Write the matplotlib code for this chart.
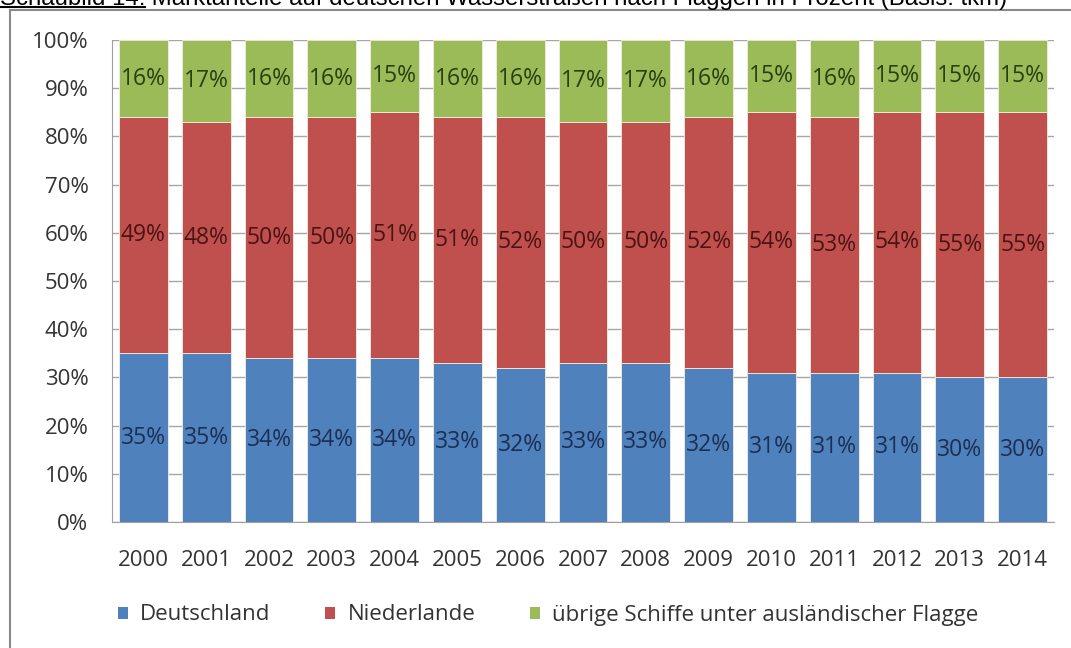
import numpy as np
import matplotlib
matplotlib.use("Agg")
import matplotlib.pyplot as plt
from matplotlib.patches import Patch
from matplotlib.lines import Line2D

years = ["2000", "2001", "2002", "2003", "2004", "2005", "2006", "2007",
         "2008", "2009", "2010", "2011", "2012", "2013", "2014"]
deutschland = [35, 35, 34, 34, 34, 33, 32, 33, 33, 32, 31, 31, 31, 30, 30]
niederlande = [49, 48, 50, 50, 51, 51, 52, 50, 50, 52, 54, 53, 54, 55, 55]
uebrige = [16, 17, 16, 16, 15, 16, 16, 17, 17, 16, 15, 16, 15, 15, 15]
series_names = ["Deutschland", "Niederlande", "übrige Schiffe unter ausländischer Flagge"]

colors = ["#4F81BD", "#C0504D", "#9BBB59"]
label_colors = ["#1c2f52", "#4a1414", "#26400e"]

plt.rcParams['font.family'] = ['Open Sans', 'DejaVu Sans']

W, H = 1071, 648
fig = plt.figure(figsize=(W / 100, H / 100), dpi=100)
ax = fig.add_axes([112 / W, 1 - 522 / H, 942 / W, 482 / H])

x = np.arange(len(years))
bottom = np.zeros(len(years))
for vals, c, lc in zip([deutschland, niederlande, uebrige], colors, label_colors):
    vals = np.array(vals, dtype=float)
    ax.bar(x, vals, 0.78, bottom=bottom, color=c, edgecolor="#f2efe0",
           linewidth=0.6, zorder=2)
    for xi, b, v in zip(x, bottom, vals):
        ax.text(xi, b + v / 2, f"{int(v)}%", ha="center", va="center",
                fontsize=16.5, color=lc, zorder=3)
    bottom += vals

ax.set_xlim(-0.5, len(years) - 0.5)
ax.set_ylim(0, 100)
ax.set_yticks(np.arange(0, 101, 10))
ax.set_yticklabels([f"{v}%" for v in range(0, 101, 10)])
ax.set_xticks(x)
ax.set_xticklabels(years)
ax.tick_params(axis="both", length=0, labelsize=16, colors="#333333")
ax.tick_params(axis="y", pad=17)
ax.tick_params(axis="x", pad=20)
ax.yaxis.grid(True, color="#a6a6a6", linewidth=1, zorder=0)
ax.set_axisbelow(True)
for s in ["top", "right"]:
    ax.spines[s].set_visible(False)
for s in ["left", "bottom"]:
    ax.spines[s].set_color("#a0a0a0")

handles = [Patch(facecolor=c, edgecolor="none") for c in colors]
fig.legend(handles, series_names, loc="center left", ncol=3,
           bbox_to_anchor=(107 / W, 1 - 615 / H), frameon=False,
           fontsize=16, handlelength=0.45, handleheight=0.45,
           handletextpad=0.55, columnspacing=2.45, borderpad=0,
           labelcolor="#333333")

# outer chart frame
fig.add_artist(Line2D([10 / W, 10 / W], [0, 1 - 10 / H], color="#8a8a8a",
                      linewidth=1.5, transform=fig.transFigure))
fig.add_artist(Line2D([10 / W, 1], [1 - 10 / H, 1 - 10 / H], color="#8a8a8a",
                      linewidth=1.5, transform=fig.transFigure))

# caption above the chart, cut off at the top as in the source image
cap1 = fig.text(0, 1 - 5 / H, "Schaubild 14:", family=["Liberation Sans"],
                fontsize=17.3, va="baseline", ha="left")
fig.canvas.draw()
bb = cap1.get_window_extent()
fig.text(bb.x1 / W, 1 - 5 / H,
         " Marktanteile auf deutschen Wasserstraßen nach Flaggen in Prozent (Basis: tkm)",
         family=["Liberation Sans"], fontsize=17.3, va="baseline", ha="left")
fig.add_artist(Line2D([0, bb.x1 / W], [1 - 7 / H, 1 - 7 / H], color="black",
                      linewidth=1.5, transform=fig.transFigure))

fig.savefig("out.png", dpi=100)
